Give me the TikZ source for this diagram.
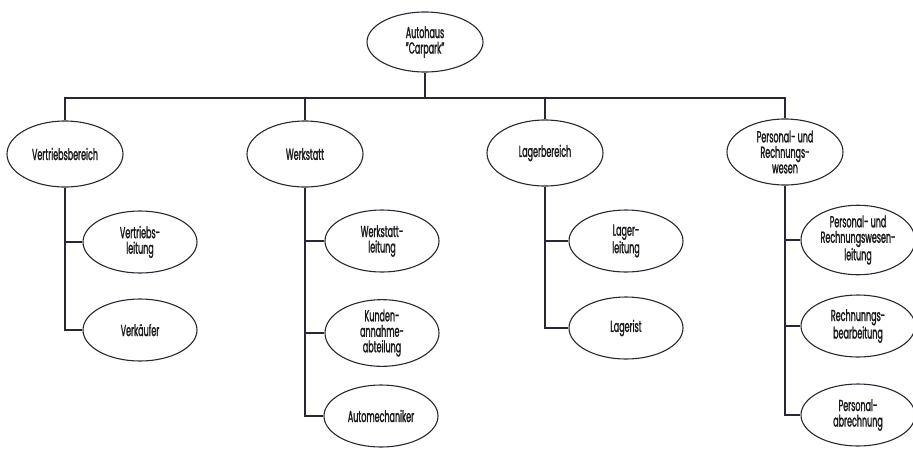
\documentclass[tikz,border=0pt]{standalone}
\usepackage{fontspec}
\setmainfont{Poppins}[FakeStretch=0.5, FakeBold=1.3]
\usetikzlibrary{shapes.geometric}
\definecolor{linecol}{RGB}{40,40,50}
\tikzset{
  unit/.style={ellipse, draw=linecol, line width=1.1pt, fill=white,
    inner sep=0pt, align=center, font=\fontsize{16}{15.5}\selectfont,
    text=black!90},
  top/.style={unit, minimum width=116pt, minimum height=60pt},
  dept/.style={unit, minimum width=116pt, minimum height=66pt},
  sub/.style={unit, minimum width=114pt, minimum height=62pt},
  link/.style={draw=linecol, line width=1.1pt}
}
\begin{document}
\begin{tikzpicture}[x=1pt, y=-1pt]
\useasboundingbox (0,0) rectangle (913,448);

% company
\node[top] (root) at (425,42) {Autohaus\\"Carpark"};
\coordinate (bar) at (425,98);

% departments
\node[dept] (vb) at (65,154) {Vertriebsbereich};
\node[dept] (ws) at (305,154) {Werkstatt};
\node[dept] (lb) at (545,153) {Lagerbereich};
\node[dept] (pr) at (785,152) {Personal- und\\Rechnungs-\\wesen};

% sales
\node[sub] (vl) at (140,242) {Vertriebs-\\leitung};
\node[sub] (vk) at (140,330) {Verkäufer};

% workshop
\node[sub] (wl) at (382,241) {Werkstatt-\\leitung};
\node[sub] (ka) at (382,333) {Kunden-\\annahme-\\abteilung};
\node[sub] (am) at (381,416) {Automechaniker};

% warehouse
\node[sub] (ll) at (626,241) {Lager-\\leitung};
\node[sub] (lg) at (626,328) {Lagerist};

% personnel and accounting
\node[sub] (pl) at (858,240) {Personal- und\\Rechnungswesen-\\leitung};
\node[sub] (rb) at (858,326) {Rechnunngs-\\bearbeitung};
\node[sub] (pa) at (858,415) {Personal-\\abrechnung};

% connectors
\draw[link] (root.south) -- (bar);
\draw[link] (vb.north) -- (vb.north|-bar) -- (pr.north|-bar) -- (pr.north);
\draw[link] (ws.north) -- (ws.north|-bar);
\draw[link] (lb.north) -- (lb.north|-bar);

\draw[link] (vb.south) |- (vl.west);
\draw[link] (vb.south) |- (vk.west);
\draw[link] (ws.south) |- (wl.west);
\draw[link] (ws.south) |- (ka.west);
\draw[link] (ws.south) |- (am.west);
\draw[link] (lb.south) |- (ll.west);
\draw[link] (lb.south) |- (lg.west);
\draw[link] (pr.south) |- (pl.west);
\draw[link] (pr.south) |- (rb.west);
\draw[link] (pr.south) |- (pa.west);
\end{tikzpicture}
\end{document}
